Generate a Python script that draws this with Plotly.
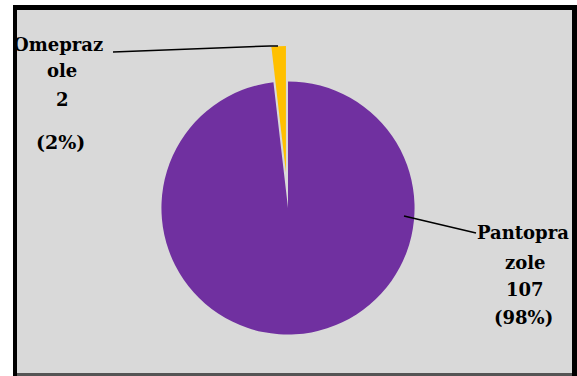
import plotly.graph_objects as go

labels = ["Pantoprazole", "Omeprazole"]
values = [107, 2]
percents = ["98%", "2%"]
colors = ["#7030A0", "#FFC000"]
pulls = [0, 0.28]

W, H = 577, 376

def px(x):
    return x / W

def py(y):
    return 1 - y / H

fig = go.Figure()
fig.add_trace(go.Pie(
    labels=labels, values=values, sort=False, direction="clockwise", rotation=0,
    pull=pulls, marker=dict(colors=colors, line=dict(width=0)),
    textinfo="none", hoverinfo="label+value+percent", showlegend=False,
    domain=dict(x=[px(126), px(450)], y=[py(370), py(46)]),
))

shapes = []
shapes.append(dict(type="rect", xref="paper", yref="paper", x0=px(13), x1=px(577), y0=py(376), y1=py(5),
                   fillcolor="black", line=dict(width=0), layer="below"))
shapes.append(dict(type="rect", xref="paper", yref="paper", x0=px(17), x1=px(572), y0=py(373), y1=py(10),
                   fillcolor="#d9d9d9", line=dict(width=0), layer="below"))
shapes.append(dict(type="rect", xref="paper", yref="paper", x0=px(17), x1=px(572), y0=py(376), y1=py(373),
                   fillcolor="#555555", line=dict(width=0), layer="below"))
shapes.append(dict(type="path", xref="paper", yref="paper",
                   path=f"M {px(113)} {py(52)} L {px(270)} {py(46)} L {px(278)} {py(46)}",
                   line=dict(color="black", width=1.5)))
shapes.append(dict(type="path", xref="paper", yref="paper",
                   path=f"M {px(404)} {py(216)} L {px(476)} {py(233)}",
                   line=dict(color="black", width=1.5)))

font = dict(family="DejaVu Serif", size=18, color="black")
ann = []
def add(text, x, y, xanchor="center", size=None):
    f = dict(font)
    if size:
        f["size"] = size
    ann.append(dict(text=f"<b>{text}</b>", x=px(x), y=py(y), xref="paper", yref="paper",
                    showarrow=False, xanchor=xanchor, yanchor="middle", font=f))

om = labels[1]
add(om[:7], 11, 44, "left")
add(om[7:], 62, 70)
add(str(values[1]), 62, 99)
add(f"({percents[1]})", 60, 142, size=19)

pa = labels[0]
add(pa[:8], 475, 232, "left")
add(pa[8:], 525, 262)
add(str(values[0]), 525, 289)
add(f"({percents[0]})", 523, 317)

fig.update_layout(width=W, height=H, margin=dict(l=0, r=0, t=0, b=0),
                  paper_bgcolor="white", plot_bgcolor="white",
                  shapes=shapes, annotations=ann)
fig.write_html("out.html")
